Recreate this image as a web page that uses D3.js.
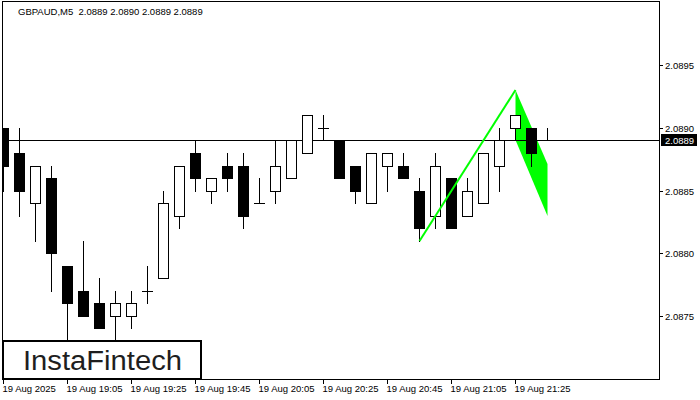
<!DOCTYPE html>
<html><head><meta charset="utf-8">
<script src="https://cdn.jsdelivr.net/npm/d3@7"></script>
<style>
html,body{margin:0;padding:0;background:#fff;}
svg{display:block;}
text{font-family:"Liberation Sans",Arial,sans-serif;}
</style></head>
<body>
<svg id="c" width="700" height="400"></svg>
<script>
// ---- data ----
const symbolTitle = "GBPAUD,M5  2.0889 2.0890 2.0889 2.0889";
const times = ["18:45","18:50","18:55","19:00","19:05","19:10","19:15","19:20","19:25","19:30",
  "19:35","19:40","19:45","19:50","19:55","20:00","20:05","20:10","20:15","20:20",
  "20:25","20:30","20:35","20:40","20:45","20:50","20:55","21:00","21:05","21:10",
  "21:15","21:20","21:25","21:30","21:35"];
const opens  = [2.0890,2.0888,2.0884,2.0886,2.0879,2.0877,2.0876,2.0875,2.0875,2.0877,
  2.0878,2.0883,2.0888,2.0885,2.0887,2.0887,2.0884,2.0885,2.0886,2.0888,
  2.0890,2.0889,2.0887,2.0884,2.0887,2.0887,2.0885,2.0883,2.0886,2.0883,
  2.0884,2.0887,2.0890,2.0890,2.0889];
const highs  = [2.0890,2.0890,2.0887,2.0887,2.0879,2.0881,2.0878,2.0877,2.0877,2.0879,
  2.0885,2.0887,2.0889,2.0886,2.0888,2.0888,2.0886,2.0889,2.0889,2.0891,
  2.0891,2.0889,2.0887,2.0888,2.0888,2.0888,2.0886,2.0888,2.0886,2.0886,
  2.0888,2.0890,2.0891,2.0890,2.0890];
const lows   = [2.0885,2.0883,2.0881,2.0877,2.0872,2.0875,2.0874,2.0873,2.0874,2.0876,
  2.0878,2.0882,2.0885,2.0884,2.0885,2.0882,2.0884,2.0884,2.0886,2.0888,
  2.0889,2.0886,2.0884,2.0884,2.0885,2.0886,2.0881,2.0882,2.0882,2.0883,
  2.0884,2.0885,2.0889,2.0887,2.0889];
const closes = [2.0887,2.0885,2.0887,2.0880,2.0876,2.0875,2.0874,2.0876,2.0876,2.0877,
  2.0884,2.0887,2.0886,2.0886,2.0886,2.0883,2.0884,2.0887,2.0889,2.0891,
  2.0890,2.0886,2.0885,2.0888,2.0888,2.0886,2.0882,2.0887,2.0882,2.0885,
  2.0888,2.0889,2.0891,2.0888,2.0889];
const xTickIdx = [0,4,8,12,16,20,24,28,32];
const xTickLabels = ["19 Aug 2025","19 Aug 19:05","19 Aug 19:25","19 Aug 19:45","19 Aug 20:05",
  "19 Aug 20:25","19 Aug 20:45","19 Aug 21:05","19 Aug 21:25"];
const yTicks = [2.0875,2.0880,2.0885,2.0890,2.0895];
const currentPrice = 2.0889;
// bearish flag pattern
const poleIdx = [26, 32];
const polePrices = [2.0881, 2.0893];
const flagIdx = [32, 32, 34, 34];
const flagPrices = [2.0893, 2.0889, 2.0883, 2.08871];
const logoText = "InstaFintech";

// ---- scales ----
const svg = d3.select("#c");
const x = d3.scaleLinear().domain([0, 34]).range([3.5, 547.5]);
const y = d3.scaleLinear().domain([2.0880, 2.0890]).range([253, 128]).interpolate(d3.interpolateRound);

const L = 2, T = 1, R = 659, B = 379;

svg.append("defs").append("clipPath").attr("id","clip")
  .append("rect").attr("x", L+1).attr("y", T+1).attr("width", R-L-1).attr("height", B-T-1);

const plot = svg.append("g").attr("clip-path","url(#clip)");

// flag polygon (background)
plot.append("polygon")
  .attr("points", flagIdx.map((d,i) => [x(d), y(flagPrices[i])].join(",")).join(" "))
  .attr("fill", "#00ff00");

// current price line
plot.append("line")
  .attr("x1", L).attr("x2", R)
  .attr("y1", y(currentPrice)+0.5).attr("y2", y(currentPrice)+0.5)
  .attr("stroke","#000").attr("stroke-width",1);

// candles
const idx = d3.range(opens.length);
const cg = plot.append("g").attr("shape-rendering","crispEdges");
idx.forEach(i => {
  const cx = x(i);
  const o = opens[i], c = closes[i], h = highs[i], l = lows[i];
  const top = y(Math.max(o,c)), bot = y(Math.min(o,c));
  cg.append("line").attr("x1",cx).attr("x2",cx)
    .attr("y1", y(h)).attr("y2", y(l)+1)
    .attr("stroke","#000").attr("stroke-width",1);
  if (o === c) {
    cg.append("line").attr("x1",cx-5.5).attr("x2",cx+5.5)
      .attr("y1",top+0.5).attr("y2",top+0.5).attr("stroke","#000");
  } else if (c > o) {
    cg.append("rect").attr("x",cx-5).attr("y",top+0.5)
      .attr("width",10).attr("height",bot-top)
      .attr("fill","#fff").attr("stroke","#000").attr("stroke-width",1);
  } else {
    cg.append("rect").attr("x",cx-5.5).attr("y",top)
      .attr("width",11).attr("height",bot-top+1).attr("fill","#000");
  }
});

// pole line
plot.append("line")
  .attr("x1", x(poleIdx[0])).attr("y1", y(polePrices[0]))
  .attr("x2", x(poleIdx[1])).attr("y2", y(polePrices[1]))
  .attr("stroke","#00ff00").attr("stroke-width",2);

// frame
const fg = svg.append("g").attr("shape-rendering","crispEdges").attr("stroke","#000");
fg.append("line").attr("x1",L+0.5).attr("x2",L+0.5).attr("y1",T).attr("y2",B+1);
fg.append("line").attr("x1",L).attr("x2",R+1).attr("y1",T+0.5).attr("y2",T+0.5);
fg.append("line").attr("x1",R+0.5).attr("x2",R+0.5).attr("y1",T).attr("y2",B+1);
fg.append("line").attr("x1",L).attr("x2",R+1).attr("y1",B+0.5).attr("y2",B+0.5);

// right axis
const ya = svg.append("g").attr("transform",`translate(${R},0)`)
  .call(d3.axisRight(y).tickValues(yTicks).tickFormat(d3.format(".4f")).tickSize(4).tickPadding(2));
ya.select(".domain").remove();
ya.selectAll("text").attr("font-family","Liberation Sans, Arial, sans-serif").attr("font-size","9.5px").attr("fill","#000");
ya.selectAll("line").attr("stroke","#000");

// bottom axis
const xa = svg.append("g").attr("transform",`translate(0,${B})`)
  .call(d3.axisBottom(x).tickValues(xTickIdx).tickFormat((d,i) => xTickLabels[i]).tickSize(5).tickPadding(1).offset(0));
xa.select(".domain").remove();
xa.selectAll("text").attr("text-anchor","start").attr("x",-1)
  .attr("font-family","Liberation Sans, Arial, sans-serif").attr("font-size","9.5px").attr("fill","#000");
xa.selectAll("line").attr("stroke","#000");

// current price label
const cpY = y(currentPrice) + 0.5;
svg.append("rect").attr("x",R+2).attr("y",cpY-6.5).attr("width",36).attr("height",12).attr("fill","#000");
svg.append("text").attr("x",R+6).attr("y",cpY).attr("dy","0.35em")
  .attr("font-size","9.5px").attr("fill","#fff").text(d3.format(".4f")(currentPrice));

// title
svg.append("text").attr("x",18).attr("y",14.5).attr("font-size","9.5px").attr("fill","#000")
  .style("white-space","pre").text(symbolTitle);

// logo
svg.append("rect").attr("x",3).attr("y",341).attr("width",198).attr("height",38)
  .attr("fill","#fff").attr("stroke","#000").attr("stroke-width",2);
svg.append("text").attr("x",23).attr("y",370).attr("font-size","27px")
  .attr("font-family","Roboto, 'Open Sans', sans-serif").attr("font-weight","500")
  .attr("fill","#1e1e1e").attr("textLength",159).attr("lengthAdjust","spacingAndGlyphs")
  .text(logoText);
</script>
</body></html>
